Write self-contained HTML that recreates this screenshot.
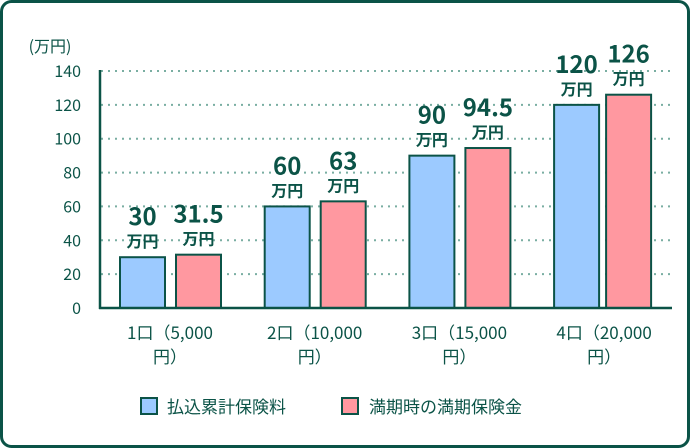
<!DOCTYPE html>
<html><head><meta charset="utf-8"><style>
html,body{margin:0;padding:0;background:#fff}
svg{display:block;font-family:"Noto Sans CJK JP","Liberation Sans",sans-serif}
</style></head><body>
<svg id="chart" width="690" height="448">
<rect x="1.5" y="1.5" width="687" height="445" rx="10" fill="#fff" stroke="#0b5347" stroke-width="3"/>
<g id="grid"></g><g id="bars"></g><g id="labels"></g>
<text x="50" y="52" font-size="16" fill="#0b5347" text-anchor="middle">(万円)</text>
<line x1="100" y1="70" x2="100" y2="309" stroke="#0b5347" stroke-width="2.5"/>
<line x1="99" y1="308" x2="672" y2="308" stroke="#0b5347" stroke-width="2.5"/>
<g>
<rect x="141" y="398" width="16" height="16" fill="#9ccaff" stroke="#0b5347" stroke-width="2"/>
<text x="167" y="413" font-size="17" fill="#0b5347">払込累計保険料</text>
<rect x="342" y="398" width="16" height="16" fill="#ff98a0" stroke="#0b5347" stroke-width="2"/>
<text x="369" y="413" font-size="17" fill="#0b5347">満期時の満期保険金</text>
</g>
</svg>
<script>
const categories=["1口（5,000","2口（10,000","3口（15,000","4口（20,000"];
const paidValues=[30,60,90,120];
const maturityValues=[31.5,63,94.5,126];
const yTicks=[0,20,40,60,80,100,120,140];
const NS="http://www.w3.org/2000/svg";
const y=v=>308-v*(237/140);
const gx=i=>120+i*144.7;
function mk(tag,attrs,parent,text){const e=document.createElementNS(NS,tag);for(const k in attrs)e.setAttribute(k,attrs[k]);if(text!==undefined)e.textContent=text;document.getElementById(parent).appendChild(e);return e;}
yTicks.forEach(t=>{
  if(t>0){const l=mk('line',{x1:101,x2:672,y1:y(t),y2:y(t),stroke:'#7aaea2','stroke-width':2,'stroke-dasharray':'2 5'},'grid');
  
  }
  const tx=mk('text',{x:81,y:y(t)+6,'font-size':16,fill:'#0b5347','text-anchor':'end'},'grid',t);
  
  
});
categories.forEach((c,i)=>{
  const x0=gx(i);
  const poff=i===3?52:56;
  [[paidValues[i],'#9ccaff',0,'paid'],[maturityValues[i],'#ff98a0',poff,'maturity']].forEach(([v,col,off,nm])=>{
    const r=mk('rect',{x:x0+off,y:y(v),width:45,height:308-y(v),fill:col,stroke:'#0b5347','stroke-width':2},'bars');
    
    
    const cx=x0+off+22.5;
    const vt=mk('text',{x:cx,y:y(v)-32,'font-size':24,'font-weight':'bold',fill:'#0b5347','text-anchor':'middle'},'labels',v);
    
    
    const ut=mk('text',{x:cx,y:y(v)-10,'font-size':16,'font-weight':'bold',fill:'#0b5347','text-anchor':'middle'},'labels','万円');
    
    
  });
  const c1=mk('text',{x:x0+50,y:339,'font-size':17,fill:'#0b5347','text-anchor':'middle'},'labels',c);
  
  
  const c2=mk('text',{x:x0+50,y:363,'font-size':17,fill:'#0b5347','text-anchor':'middle'},'labels','円）');
  
  
});
</script>
</body></html>
